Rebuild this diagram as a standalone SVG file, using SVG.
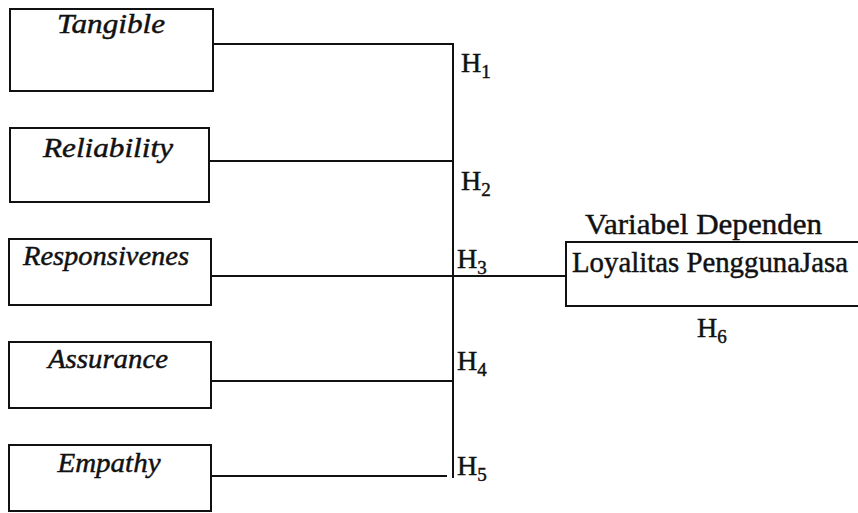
<svg xmlns="http://www.w3.org/2000/svg" width="858" height="513" viewBox="0 0 858 513">
  <style>
    .box { fill: #fff; stroke: #111; stroke-width: 2; }
    .link { fill: none; stroke: #111; stroke-width: 2; }
    text { font-family: 'Liberation Serif', serif; fill: #111; stroke: #111; stroke-width: 0.45; }
    .lbl { font-style: italic; font-size: 27px; text-anchor: middle; }
    .h { font-size: 28px; }
    .sub { font-size: 19px; }
  </style>
  <rect width="858" height="513" fill="#fff"/>

  <!-- connectors -->
  <g id="connectors">
    <line class="link" x1="453" y1="43" x2="453" y2="478"/>
    <line class="link" x1="213" y1="44" x2="454" y2="44"/>
    <line class="link" x1="206" y1="161" x2="453" y2="161"/>
    <line class="link" x1="211" y1="276" x2="566" y2="276"/>
    <line class="link" x1="211" y1="381" x2="453" y2="381"/>
    <line class="link" x1="211" y1="476" x2="447" y2="476"/>
  </g>

  <!-- independent variables -->
  <g id="tangible">
    <rect class="box" x="10" y="9" width="203" height="82"/>
    <text class="lbl" x="111" y="33" textLength="108" lengthAdjust="spacingAndGlyphs">Tangible</text>
  </g>
  <g id="reliability">
    <rect class="box" x="10" y="128" width="199" height="74"/>
    <text class="lbl" x="108" y="157" textLength="130" lengthAdjust="spacingAndGlyphs">Reliability</text>
  </g>
  <g id="responsivenes">
    <rect class="box" x="9" y="239" width="202" height="66"/>
    <text class="lbl" x="106" y="265" textLength="166" lengthAdjust="spacingAndGlyphs">Responsivenes</text>
  </g>
  <g id="assurance">
    <rect class="box" x="9" y="342" width="202" height="66"/>
    <text class="lbl" x="108" y="368" textLength="120" lengthAdjust="spacingAndGlyphs">Assurance</text>
  </g>
  <g id="empathy">
    <rect class="box" x="9" y="445" width="202" height="66"/>
    <text class="lbl" x="109" y="472" textLength="103" lengthAdjust="spacingAndGlyphs">Empathy</text>
  </g>

  <!-- dependent variable -->
  <g id="loyalitas">
    <text x="585" y="234" font-size="30" textLength="237" lengthAdjust="spacingAndGlyphs">Variabel Dependen</text>
    <rect class="box" x="566" y="242" width="300" height="64"/>
    <text x="572" y="272" font-size="29" textLength="276" lengthAdjust="spacingAndGlyphs">Loyalitas PenggunaJasa</text>
  </g>

  <!-- hypothesis labels -->
  <g id="hypotheses">
    <text class="h" x="461" y="72">H<tspan class="sub" dy="6">1</tspan></text>
    <text class="h" x="461" y="190">H<tspan class="sub" dy="6">2</tspan></text>
    <text class="h" x="457" y="268">H<tspan class="sub" dy="6">3</tspan></text>
    <text class="h" x="457" y="370">H<tspan class="sub" dy="6">4</tspan></text>
    <text class="h" x="457" y="475">H<tspan class="sub" dy="6">5</tspan></text>
    <text class="h" x="697" y="337">H<tspan class="sub" dy="6">6</tspan></text>
  </g>
</svg>
